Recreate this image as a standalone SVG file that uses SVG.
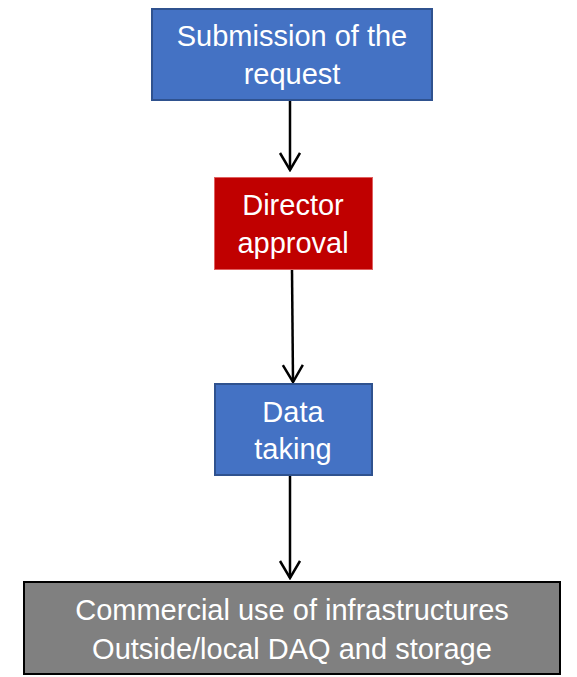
<svg xmlns="http://www.w3.org/2000/svg" width="577" height="677" viewBox="0 0 577 677">
<style>
.t{font-family:"Liberation Sans",Arial,sans-serif;font-size:29px;fill:#fff;text-anchor:middle}
.blue{fill:#4472C4;stroke:#2F528F;stroke-width:2}
.red{fill:#C00000;stroke:#E06060;stroke-width:1}
.gray{fill:#808080;stroke:#000;stroke-width:2}
.c{stroke:#000;stroke-width:2.5;fill:none}
</style>
<defs>
<marker id="a" markerWidth="20" markerHeight="24" refX="18" refY="11" orient="auto" markerUnits="userSpaceOnUse" viewBox="0 0 20 24">
<polyline points="1,1 18,11 1,21" fill="none" stroke="#000" stroke-width="2.5"/>
</marker>
</defs>
<rect width="577" height="677" fill="#fff"/>
<g id="connectors">
<line class="c" x1="290" y1="100" x2="290" y2="170" marker-end="url(#a)"/>
<line class="c" x1="292" y1="270" x2="293" y2="382" marker-end="url(#a)"/>
<line class="c" x1="290" y1="475" x2="290" y2="578" marker-end="url(#a)"/>
</g>
<g id="n1">
<rect class="blue" x="152" y="9" width="280" height="91"/>
<text class="t" x="292" y="46">Submission of the</text>
<text class="t" x="292" y="84">request</text>
</g>
<g id="n2">
<rect class="red" x="214.5" y="177.5" width="158" height="92"/>
<text class="t" x="293" y="215">Director</text>
<text class="t" x="293" y="253">approval</text>
</g>
<g id="n3">
<rect class="blue" x="215" y="384" width="157" height="91"/>
<text class="t" x="293" y="422">Data</text>
<text class="t" x="293" y="459">taking</text>
</g>
<g id="n4">
<rect class="gray" x="24" y="582" width="536" height="92"/>
<text class="t" x="292" y="620">Commercial use of infrastructures</text>
<text class="t" x="292" y="659">Outside/local DAQ and storage</text>
</g>
</svg>
